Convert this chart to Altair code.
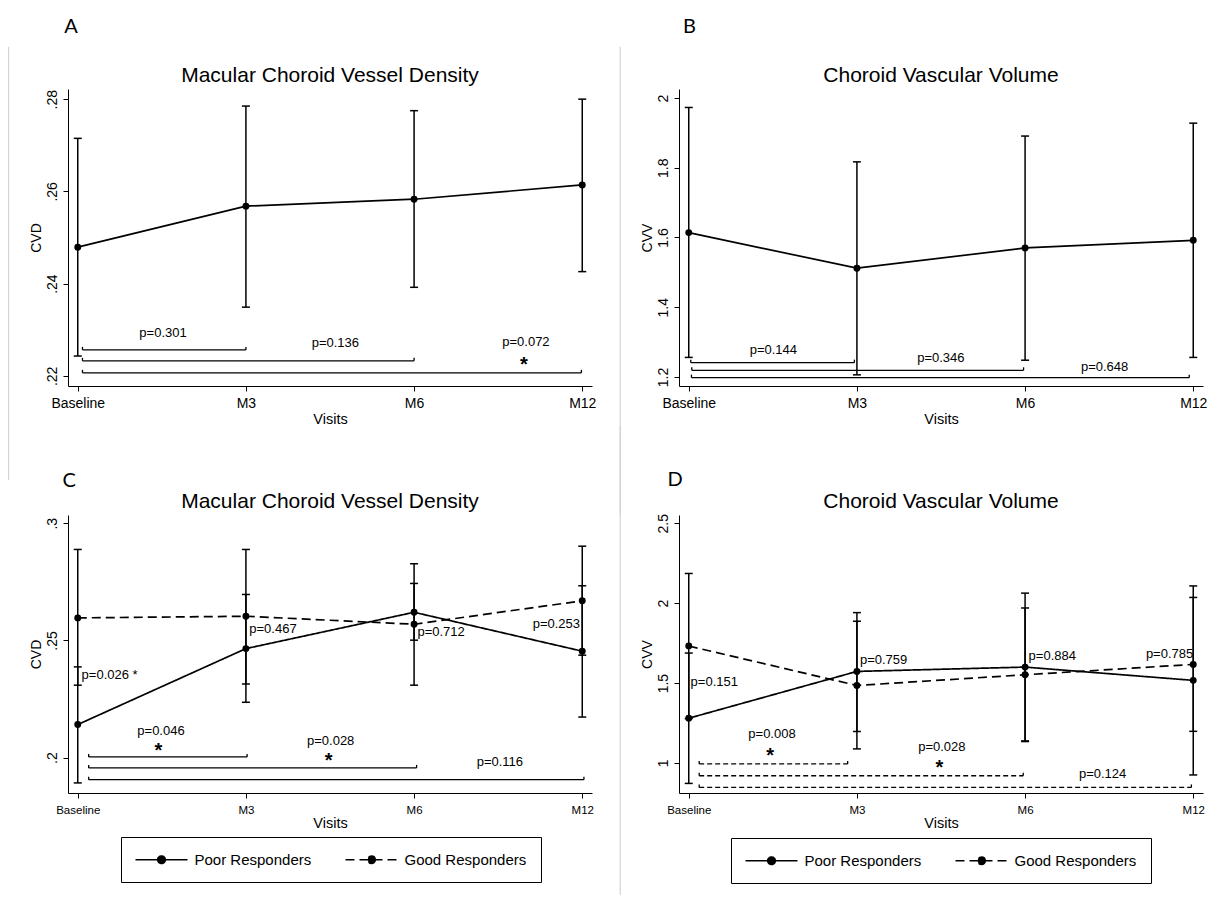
import altair as alt
import pandas as pd

FONT = "Liberation Sans"
LETTER_FONT = "Lato"

# ---------------- shared categories ----------------
visits = ["Baseline", "M3", "M6", "M12"]
visit_pos = [0, 1, 2, 3]
x_domain = [-0.058, 3.058]
groups = ["Poor Responders", "Good Responders"]

# ---------------- Panel A : CVD, all eyes ----------------
a_mean = [0.2479, 0.2568, 0.2583, 0.2614]
a_hi = [0.2715, 0.2785, 0.2775, 0.2800]
a_lo = [0.2243, 0.2349, 0.2392, 0.2426]
a_yticks = [0.22, 0.24, 0.26, 0.28]
a_br_start = [0.028, 0.028, 0.028]
a_br_end = [1.0, 2.0, 2.995]
a_br_y = [0.22563, 0.22325, 0.22065]
a_lab_text = ["p=0.301", "p=0.136", "p=0.072"]
a_lab_x = [0.507, 1.532, 2.665]
a_lab_y = [0.22931, 0.22715, 0.22736]
a_star_x = [2.653]
a_star_y = [0.22347]

# ---------------- Panel B : CVV, all eyes ----------------
b_mean = [1.614, 1.512, 1.570, 1.592]
b_hi = [1.973, 1.817, 1.891, 1.928]
b_lo = [1.256, 1.206, 1.248, 1.256]
b_yticks = [1.2, 1.4, 1.6, 1.8, 2]
b_br_start = [0.012, 0.018, 0.016]
b_br_end = [0.985, 1.991, 2.976]
b_br_y = [1.241, 1.219, 1.198]
b_lab_text = ["p=0.144", "p=0.346", "p=0.648"]
b_lab_x = [0.503, 1.499, 2.473]
b_lab_y = [1.277, 1.254, 1.229]

# ---------------- Panel C : CVD by response ----------------
c_poor_mean = [0.2141, 0.2465, 0.2620, 0.2454]
c_poor_hi = [0.2387, 0.2696, 0.2743, 0.2733]
c_poor_lo = [0.1892, 0.2236, 0.2501, 0.2173]
c_good_mean = [0.2596, 0.2603, 0.2569, 0.2669]
c_good_hi = [0.2888, 0.2888, 0.2827, 0.2902]
c_good_lo = [0.2309, 0.2314, 0.2309, 0.2437]
c_yticks = [0.2, 0.25, 0.3]
c_br_start = [0.065, 0.065, 0.065]
c_br_end = [1.007, 2.015, 3.010]
c_br_y = [0.2003, 0.1956, 0.1906]
c_lab_text = ["p=0.046", "p=0.028", "p=0.116"]
c_lab_x = [0.495, 1.504, 2.510]
c_lab_y = [0.2114, 0.2070, 0.1980]
c_star_x = [0.479, 1.492]
c_star_y = [0.2048, 0.2006]
c_gl_text = ["p=0.026 *", "p=0.467", "p=0.712"]
c_gl_x = [0.023, 1.020, 2.020]
c_gl_y = [0.2354, 0.2549, 0.2536]
c_gr_text = ["p=0.253"]
c_gr_x = [2.987]
c_gr_y = [0.2568]

# ---------------- Panel D : CVV by response ----------------
d_poor_mean = [1.280, 1.573, 1.600, 1.517]
d_poor_hi = [1.688, 1.941, 2.063, 2.108]
d_poor_lo = [0.872, 1.197, 1.138, 0.925]
d_good_mean = [1.732, 1.485, 1.552, 1.617]
d_good_hi = [2.186, 1.887, 1.970, 2.036]
d_good_lo = [1.278, 1.088, 1.134, 1.198]
d_yticks = [1, 1.5, 2, 2.5]
d_br_start = [0.062, 0.062, 0.062]
d_br_end = [0.945, 1.989, 2.989]
d_br_y = [0.994, 0.920, 0.847]
d_lab_text = ["p=0.008", "p=0.028", "p=0.124"]
d_lab_x = [0.495, 1.505, 2.461]
d_lab_y = [1.182, 1.102, 0.931]
d_star_x = [0.484, 1.491]
d_star_y = [1.077, 0.997]
d_gl_text = ["p=0.151", "p=0.759", "p=0.884"]
d_gl_x = [0.011, 1.018, 2.021]
d_gl_y = [1.506, 1.646, 1.667]
d_gr_text = ["p=0.785"]
d_gr_x = [3.0]
d_gr_y = [1.684]

X_LABEL_EXPR = "[" + ",".join("'%s'" % v for v in visits) + "][datum.value]"
Y_LABEL_EXPR = ("datum.value < 1 ? replace(toString(datum.value), '0.', '.') "
                ": toString(datum.value)")

LEGEND_PATH = ("M-3.467,0H3.467M0.507,0A0.507,0.507,0,1,1,-0.507,0"
               "A0.507,0.507,0,1,1,0.507,0Z")

PLOT_W = 524


def series_df(name, mean, lo, hi):
    return pd.DataFrame({"x": visit_pos, "visit": visits, "group": name,
                         "mean": mean, "lo": lo, "hi": hi})


def make_panel(series, y_domain, y_ticks, y_title, title, letter, letter_xy,
               seps, br, labs, stars, gl, gr, height, xlab_size,
               dashed_br=False, legend_xy=None, anchor=False):
    xscale = alt.Scale(domain=x_domain, nice=False, zero=False)
    yscale = alt.Scale(domain=y_domain, nice=False, zero=False)
    xaxis = alt.Axis(values=visit_pos, labelExpr=X_LABEL_EXPR, title="Visits",
                     labelFontSize=xlab_size, titleFontSize=14.5, tickSize=5,
                     labelPadding=5 if xlab_size > 12 else 6,
                     titlePadding=2 if xlab_size > 12 else 1,
                     labelAngle=0, labelFlush=False, labelOverlap=False)
    yaxis = alt.Axis(values=y_ticks, labelExpr=Y_LABEL_EXPR, title=y_title,
                     labelAngle=270, labelAlign="center", labelBaseline="alphabetic",
                     labelFontSize=14, tickSize=5, labelPadding=7,
                     titleFontSize=14, titlePadding=2, labelFlush=False,
                     labelOverlap=False)

    def X(f):
        return alt.X(f + ":Q", scale=xscale, axis=xaxis)

    def Y(f):
        return alt.Y(f + ":Q", scale=yscale, axis=yaxis)

    sdf = pd.concat([series_df(*s) for s in series], ignore_index=True)
    layers = []

    # error bars
    layers.append(alt.Chart(sdf).mark_rule(color="black", strokeWidth=1.5)
                  .encode(x=X("x"), y=Y("lo"), y2=alt.Y2("hi")))
    layers.append(alt.Chart(sdf).transform_fold(["lo", "hi"], as_=["end", "v"])
                  .mark_rule(color="black", strokeWidth=1.5, xOffset=-4, x2Offset=4)
                  .encode(x=X("x"), x2=alt.X2("x"), y=Y("v")))

    # mean lines
    if len(series) > 1:
        legend = alt.Legend(
            orient="none", legendX=legend_xy[0], legendY=legend_xy[1],
            direction="horizontal", title=None, strokeColor="black",
            padding=14, symbolType=LEGEND_PATH, symbolSize=225,
            symbolOffset=18, symbolStrokeColor="black", symbolFillColor="black",
            symbolStrokeWidth=1.6, labelFont=FONT, labelFontSize=15,
            labelColor="black", labelOffset=24.5, columnPadding=30,
            labelLimit=300)
        layers.append(alt.Chart(sdf).mark_line(color="black", strokeWidth=1.7)
                      .encode(x=X("x"), y=Y("mean"),
                              strokeDash=alt.StrokeDash(
                                  "group:N",
                                  scale=alt.Scale(domain=groups, range=[[1, 0], [9, 5]]),
                                  legend=legend)))
    else:
        layers.append(alt.Chart(sdf).mark_line(color="black", strokeWidth=1.7)
                      .encode(x=X("x"), y=Y("mean")))
    layers.append(alt.Chart(sdf).mark_circle(color="black", size=48, opacity=1)
                  .encode(x=X("x"), y=Y("mean")))

    # comparison brackets
    bdf = pd.DataFrame({"xs": br[0], "xe": br[1], "y": br[2]})
    kw = {"strokeDash": [5, 3]} if dashed_br else {}
    layers.append(alt.Chart(bdf).mark_rule(color="black", strokeWidth=1.3, **kw)
                  .encode(x=X("xs"), x2=alt.X2("xe"), y=Y("y")))
    layers.append(alt.Chart(bdf).transform_fold(["xs", "xe"], as_=["end", "xv"])
                  .mark_rule(color="black", strokeWidth=1.3, y2Offset=-3)
                  .encode(x=X("xv"), y=Y("y"), y2=alt.Y2("y")))

    # bracket p-values
    ldf = pd.DataFrame({"x": labs[1], "y": labs[2], "label": labs[0]})
    layers.append(alt.Chart(ldf).mark_text(font=FONT, fontSize=13, color="black",
                                           align="center", baseline="middle")
                  .encode(x=X("x"), y=Y("y"), text="label:N"))
    if stars:
        stdf = pd.DataFrame({"x": stars[0], "y": stars[1], "s": ["*"] * len(stars[0])})
        layers.append(alt.Chart(stdf).mark_text(font=FONT, fontSize=20, fontWeight="bold",
                                                color="black", align="center",
                                                baseline="alphabetic", dy=11)
                      .encode(x=X("x"), y=Y("y"), text="s:N"))
    if gl:
        gldf = pd.DataFrame({"x": gl[1], "y": gl[2], "label": gl[0]})
        layers.append(alt.Chart(gldf).mark_text(font=FONT, fontSize=13, color="black",
                                                align="left", baseline="middle")
                      .encode(x=X("x"), y=Y("y"), text="label:N"))
    if gr:
        grdf = pd.DataFrame({"x": gr[1], "y": gr[2], "label": gr[0]})
        layers.append(alt.Chart(grdf).mark_text(font=FONT, fontSize=13, color="black",
                                                align="right", baseline="middle")
                      .encode(x=X("x"), y=Y("y"), text="label:N"))

    # panel title and letter
    layers.append(alt.Chart(pd.DataFrame({"t": [title]}))
                  .mark_text(font=FONT, fontSize=21, color="black",
                             align="center", baseline="alphabetic")
                  .encode(x=alt.value(PLOT_W / 2), y=alt.value(-7.3), text="t:N"))
    layers.append(alt.Chart(pd.DataFrame({"letter": [letter]}))
                  .mark_text(font=LETTER_FONT, fontSize=20, color="black",
                             align="center", baseline="alphabetic")
                  .encode(x=alt.value(letter_xy[0]), y=alt.value(letter_xy[1]),
                          text="letter:N"))
    # light separators between panels
    for (sx, sy1, sy2) in seps:
        layers.append(alt.Chart(pd.DataFrame({"k": [0]}))
                      .mark_rule(color="#d4d4d4", strokeWidth=1.2)
                      .encode(x=alt.value(sx), y=alt.value(sy1), y2=alt.value(sy2)))
    if anchor:
        layers.append(alt.Chart(pd.DataFrame({"k": [0]}))
                      .mark_rule(color="white", strokeWidth=1)
                      .encode(x=alt.value(-67.2), y=alt.value(-88.5), y2=alt.value(-88)))

    return alt.layer(*layers).properties(width=PLOT_W, height=height)


pA = make_panel([("All", a_mean, a_lo, a_hi)], [0.2178, 0.2822], a_yticks, "CVD",
                "Macular Choroid Vessel Density", "A", (3.1, -55.7),
                [(-59.4, -42.3, 391)], (a_br_start, a_br_end, a_br_y),
                (a_lab_text, a_lab_x, a_lab_y), (a_star_x, a_star_y), None, None,
                297, 14, anchor=True)
pB = make_panel([("All", b_mean, b_lo, b_hi)], [1.174, 2.026], b_yticks, "CVV",
                "Choroid Vascular Volume", "B", (10.5, -56.3),
                [(-58.8, -42.3, 426)], (b_br_start, b_br_end, b_br_y),
                (b_lab_text, b_lab_x, b_lab_y), None, None, None, 297, 14)
pC = make_panel([(groups[0], c_poor_mean, c_poor_lo, c_poor_hi),
                 (groups[1], c_good_mean, c_good_lo, c_good_hi)],
                [0.1849, 0.3035], c_yticks, "CVD",
                "Macular Choroid Vessel Density", "C", (1.2, -28.3),
                [], (c_br_start, c_br_end, c_br_y),
                (c_lab_text, c_lab_x, c_lab_y), (c_star_x, c_star_y),
                (c_gl_text, c_gl_x, c_gl_y), (c_gr_text, c_gr_x, c_gr_y),
                278, 11.5, legend_xy=(53, 322))
pD = make_panel([(groups[0], d_poor_mean, d_poor_lo, d_poor_hi),
                 (groups[1], d_good_mean, d_good_lo, d_good_hi)],
                [0.812, 2.552], d_yticks, "CVV",
                "Choroid Vascular Volume", "D", (-3.9, -29),
                [(-58.8, -89, 380)], (d_br_start, d_br_end, d_br_y),
                (d_lab_text, d_lab_x, d_lab_y), (d_star_x, d_star_y),
                (d_gl_text, d_gl_x, d_gl_y), (d_gr_text, d_gr_x, d_gr_y),
                278, 11.5, dashed_br=True, legend_xy=(52, 323))

chart = (alt.concat(pA, pB, pC, pD, columns=2,
                    spacing={"row": 129, "column": 87}, bounds="flush")
         .resolve_scale(x="independent", y="independent", strokeDash="independent")
         .resolve_legend(strokeDash="independent")
         .properties(padding={"left": 0, "top": 0, "right": 0, "bottom": 0},
                     background="white")
         .configure_view(strokeWidth=0)
         .configure_axis(grid=False, domainColor="black", tickColor="black",
                         labelColor="black", titleColor="black", labelFont=FONT,
                         titleFont=FONT, titleFontWeight="normal", domainWidth=1,
                         tickWidth=1))

chart.save("out.html", embed_options={"renderer": "svg", "actions": False})
